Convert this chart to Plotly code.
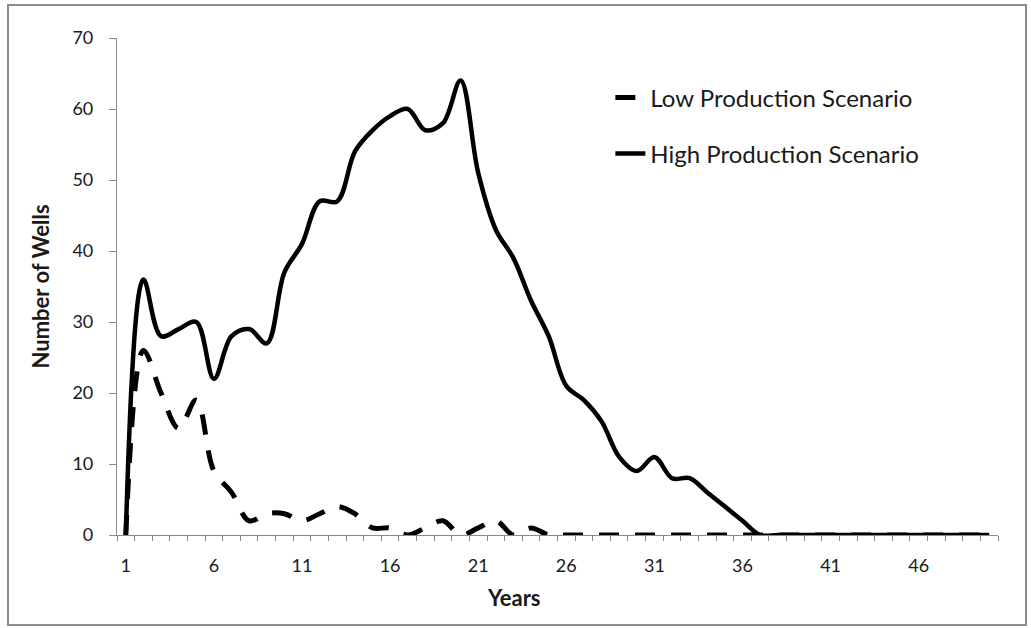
import plotly.graph_objects as go

# data
YEARS = list(range(1, 51))
LOW_WELLS = [0, 26, 20, 15, 19, 9, 6, 2, 3, 3,
             2, 3, 4, 3, 1, 1, 0, 1, 2, 0,
             1, 2, 0, 1, 0, 0, 0, 0, 0, 0,
             0, 0, 0, 0, 0, 0, 0, 0, 0, 0,
             0, 0, 0, 0, 0, 0, 0, 0, 0, 0]
HIGH_WELLS = [0, 36, 28, 29, 30, 22, 28, 29, 27, 37,
              41, 47, 47, 54, 57, 59, 60, 57, 58, 64,
              51, 43, 39, 33, 28, 21, 19, 16, 11, 9,
              11, 8, 8, 6, 4, 2, 0, 0, 0, 0,
              0, 0, 0, 0, 0, 0, 0, 0, 0, 0]
X_TICKS = [1, 6, 11, 16, 21, 26, 31, 36, 41, 46]
Y_TICKS = [0, 10, 20, 30, 40, 50, 60, 70]

FONT = "Lato"
AXIS_GREY = "#8a8a8a"
TEXT = "#1a1a1a"

fig = go.Figure()
fig.add_trace(go.Scatter(
    x=YEARS, y=LOW_WELLS, name="Low Production Scenario", mode="lines",
    line={"color": "black", "width": 5, "dash": "20px,16px", "shape": "spline", "smoothing": 1},
    legendgroup="low",
))
fig.add_trace(go.Scatter(
    x=YEARS, y=HIGH_WELLS, name="High Production Scenario", mode="lines",
    line={"color": "black", "width": 4.5, "shape": "spline", "smoothing": 1},
    legendgroup="high",
))

fig.update_xaxes(
    range=[0.5, 50.5], tickvals=X_TICKS, ticks="", showgrid=False, zeroline=False,
    showline=True, linecolor=AXIS_GREY, linewidth=1.2,
    tickfont={"family": FONT, "size": 18, "color": TEXT}, ticklabelstandoff=14,
    minor={"tick0": 0.5, "dtick": 1, "ticks": "outside", "ticklen": 5,
           "tickcolor": AXIS_GREY, "tickwidth": 1, "showgrid": False},
)
fig.update_yaxes(
    range=[0, 70], tickvals=Y_TICKS, ticks="outside", ticklen=7, tickcolor=AXIS_GREY,
    showgrid=False, zeroline=False, showline=True, linecolor=AXIS_GREY, linewidth=1.2,
    tickfont={"family": FONT, "size": 18, "color": TEXT}, ticklabelstandoff=12,
)

fig.update_layout(
    width=1031, height=628,
    margin={"l": 117, "r": 33, "t": 38, "b": 93},
    paper_bgcolor="white", plot_bgcolor="white",
    showlegend=True,
    legend={"x": 0.56, "y": 0.925, "xanchor": "left", "yanchor": "top",
            "font": {"family": FONT, "size": 24, "color": TEXT},
            "tracegroupgap": 22, "bgcolor": "rgba(0,0,0,0)"},
    annotations=[
        {"text": "<b>Years</b>", "xref": "paper", "yref": "paper",
         "x": (514 - 117) / 881, "y": (535 - 597) / 497,
         "xanchor": "center", "yanchor": "middle", "showarrow": False,
         "font": {"family": FONT, "size": 22, "color": TEXT}},
        {"text": "<b>Number of Wells</b>", "xref": "paper", "yref": "paper",
         "x": (40 - 117) / 881, "y": 0.5, "textangle": -90,
         "xanchor": "center", "yanchor": "middle", "showarrow": False,
         "font": {"family": FONT, "size": 22, "color": TEXT}},
    ],
    shapes=[
        {"type": "rect", "xref": "paper", "yref": "paper",
         "x0": (8 - 117) / 881, "x1": (1026 - 117) / 881,
         "y0": (535 - 625) / 497, "y1": (535 - 5) / 497,
         "line": {"color": "#8c8c8c", "width": 2}, "layer": "below"},
    ],
)

# drop the default page margin so the figure sits at the window origin
fig.write_html("out.html", config={"displayModeBar": False},
               post_script="document.body.style.margin='0';")
